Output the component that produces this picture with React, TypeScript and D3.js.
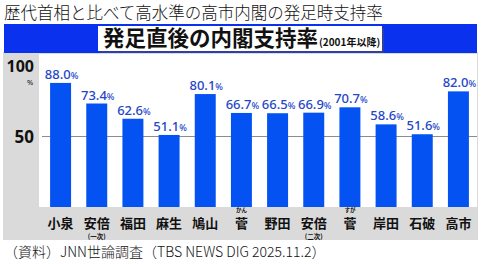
import React, { useRef, useEffect } from "react";
import * as d3 from "d3";

// 首相ごとの発足直後の内閣支持率 (JNN世論調査)
const names = ["小泉", "安倍", "福田", "麻生", "鳩山", "菅", "野田", "安倍", "菅", "岸田", "石破", "高市"];
const notes = ["", "(一次)", "", "", "", "", "", "(二次)", "", "", "", ""];
const rubies = ["", "", "", "", "", "かん", "", "", "すが", "", "", ""];
const ratings = [88.0, 73.4, 62.6, 51.1, 80.1, 66.7, 66.5, 66.9, 70.7, 58.6, 51.6, 82.0];
const yTicks = [50, 100];

const title = "歴代首相と比べて高水準の高市内閣の発足時支持率";
const bannerText = "発足直後の内閣支持率";
const bannerSub = "(2001年以降)";
const source = "（資料）JNN世論調査（TBS NEWS DIG 2025.11.2）";

const JP = "'Noto Sans CJK JP', 'Noto Sans', sans-serif";

export default function App() {
    const svgRef = useRef<SVGSVGElement | null>(null);

    useEffect(() => {
        if (!svgRef.current) return;
        const width = 484;
        const height = 264;
        const plot = { left: 39, right: 477, top: 54, bottom: 207 };

        const svg = d3.select(svgRef.current);
        svg.selectAll("*").remove();

        svg.append("rect").attr("width", width).attr("height", height).attr("fill", "#fff");

        // heading
        svg.append("text")
            .attr("x", 4)
            .attr("y", 19)
            .attr("font-family", JP)
            .attr("font-size", 16.5)
            .attr("font-weight", 300)
            .attr("fill", "#111")
            .text(title);

        // grey panel + white plot area
        svg.append("rect")
            .attr("x", 3).attr("y", 52).attr("width", 475).attr("height", 188)
            .attr("fill", "#dadada");
        svg.append("rect")
            .attr("x", plot.left).attr("y", plot.top)
            .attr("width", plot.right - plot.left).attr("height", plot.bottom - plot.top)
            .attr("fill", "#fff");

        // blue banner
        svg.append("rect")
            .attr("x", 4).attr("y", 24).attr("width", 473).attr("height", 29)
            .attr("fill", "#0a32ee");
        svg.append("rect")
            .attr("x", 100).attr("y", 28).attr("width", 284).attr("height", 25)
            .attr("fill", "#4a4a70").attr("opacity", 0.6);
        svg.append("rect")
            .attr("x", 98).attr("y", 26).attr("width", 284).attr("height", 25)
            .attr("fill", "#fff");
        const banner = svg.append("text")
            .attr("x", 103)
            .attr("y", 46)
            .attr("font-family", JP)
            .attr("font-weight", 700)
            .attr("fill", "#111");
        banner.append("tspan").attr("font-size", 21.5).text(bannerText);
        banner.append("tspan").attr("font-size", 10).attr("dx", 1).text(bannerSub);

        const x = d3
            .scaleBand<number>()
            .domain(d3.range(names.length))
            .range([42.5, 476.5])
            .paddingInner(0.42)
            .paddingOuter(0.21);

        const y = d3.scaleLinear().domain([0, 100]).range([plot.bottom, 66]);

        // 50 gridline
        svg.append("line")
            .attr("x1", plot.left + 3).attr("x2", plot.right)
            .attr("y1", y(50)).attr("y2", y(50))
            .attr("stroke", "#8c8c8c").attr("stroke-width", 1);

        // y labels
        yTicks.forEach((t) => {
            svg.append("text")
                .attr("x", 34)
                .attr("y", y(t))
                .attr("dy", "0.36em")
                .attr("text-anchor", "end")
                .attr("font-family", "'Noto Sans', sans-serif")
                .attr("font-weight", 700)
                .attr("font-size", t === 100 ? 16 : 17)
                .attr("fill", "#111")
                .text(t);
        });
        svg.append("text")
            .attr("x", 30)
            .attr("y", y(100) + 18.5)
            .attr("text-anchor", "middle")
            .attr("font-family", "'Noto Sans', sans-serif")
            .attr("font-size", 7.5)
            .attr("fill", "#111")
            .text("%");

        // bars
        svg.selectAll("rect.bar")
            .data(ratings)
            .join("rect")
            .attr("class", "bar")
            .attr("x", (_, i) => x(i)!)
            .attr("y", (d) => y(d))
            .attr("width", x.bandwidth())
            .attr("height", (d) => y(0) - y(d))
            .attr("fill", "#0552f2");

        // value labels
        const vals = svg.selectAll("text.val")
            .data(ratings)
            .join("text")
            .attr("class", "val")
            .attr("x", (_, i) => x(i)! + x.bandwidth() / 2 + 1)
            .attr("y", (d) => y(d) - 4)
            .attr("text-anchor", "middle")
            .attr("font-family", "'Noto Sans', sans-serif")
            .attr("font-weight", 500)
            .attr("fill", "#2446c8");
        vals.append("tspan").attr("font-size", 13).text((d) => d.toFixed(1));
        vals.append("tspan").attr("font-size", 9).text("%");

        // category labels
        names.forEach((n, i) => {
            const cx = x(i)! + x.bandwidth() / 2;
            svg.append("text")
                .attr("x", cx)
                .attr("y", 228)
                .attr("text-anchor", "middle")
                .attr("font-family", JP)
                .attr("font-weight", 700)
                .attr("font-size", 13)
                .attr("fill", "#111")
                .text(n);
            if (notes[i]) {
                svg.append("text")
                    .attr("x", cx)
                    .attr("y", 239)
                    .attr("text-anchor", "middle")
                    .attr("font-family", JP)
                    .attr("font-weight", 700)
                    .attr("font-size", 6.5)
                    .attr("fill", "#111")
                    .text(notes[i]);
            }
            if (rubies[i]) {
                svg.append("text")
                    .attr("x", cx)
                    .attr("y", 212)
                    .attr("text-anchor", "middle")
                    .attr("font-family", JP)
                    .attr("font-weight", 700)
                    .attr("font-size", 5.5)
                    .attr("fill", "#111")
                    .text(rubies[i]);
            }
        });

        // source
        svg.append("text")
            .attr("x", 4)
            .attr("y", 257)
            .attr("font-family", JP)
            .attr("font-weight", 300)
            .attr("font-size", 14)
            .attr("fill", "#111")
            .text(source);
    }, []);

    return (
        <svg
            ref={svgRef}
            width={484}
            height={264}
            style={{ position: "absolute", left: 0, top: 0 }}
        ></svg>
    );
}
